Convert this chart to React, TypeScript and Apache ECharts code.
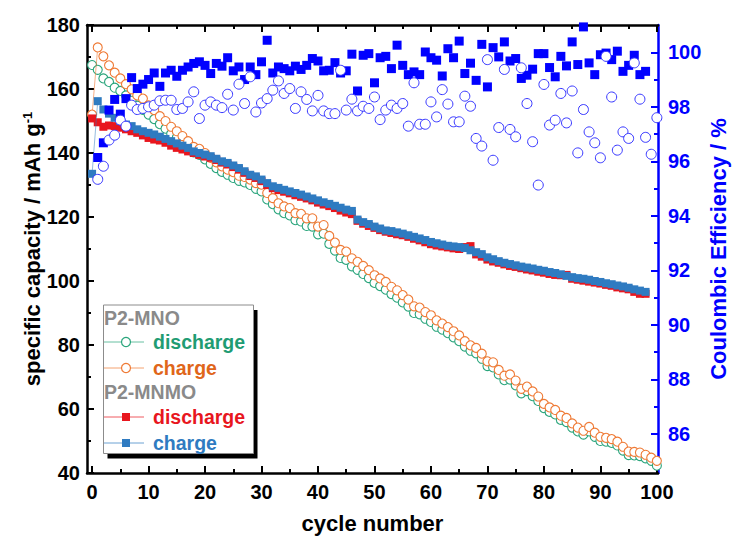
import React, { useEffect, useRef } from "react";
import * as echarts from "echarts";

const FONT = "'Liberation Sans', Arial, sans-serif";

// x-axis tick labels
const xTicks = [0, 10, 20, 30, 40, 50, 60, 70, 80, 90, 100];
const xMinor = [5, 15, 25, 35, 45, 55, 65, 75, 85, 95];
const ceTicks = [86, 88, 90, 92, 94, 96, 98, 100];
const ceMinor = [85, 87, 89, 91, 93, 95, 97, 99];

// P2-MNO specific capacity (cycle 0..100)
const mnoDischarge = [
  167.5, 166.0, 163.3, 162.2, 160.4, 159.4, 158.0, 156.3, 154.8, 153.5,
  152.0, 150.6, 149.0, 147.6, 146.0, 144.8, 143.2, 141.8, 140.2, 139.4,
  138.0, 136.6, 135.3, 134.1, 133.2, 132.2, 131.3, 130.8, 130.0, 128.8,
  128.0, 125.5, 124.0, 122.4, 121.2, 120.5, 119.0, 118.6, 117.2, 117.0,
  114.6, 114.8, 111.6, 109.5, 107.2, 106.6, 104.6, 103.5, 102.2, 100.9,
  99.4, 98.4, 97.3, 95.9, 94.8, 93.3, 92.0, 90.0, 89.6, 88.2,
  87.2, 85.7, 84.8, 83.7, 82.4, 81.2, 79.5, 78.2, 77.4, 75.7,
  73.4, 73.0, 70.8, 69.0, 69.2, 67.4, 64.9, 65.6, 64.0, 62.5,
  60.3, 59.1, 58.3, 56.6, 55.9, 54.2, 53.0, 52.0, 53.0, 51.3,
  50.0, 49.8, 49.4, 48.6, 47.0, 45.6, 45.5, 45.3, 44.6, 43.8,
  42.3,
];
const mnoCharge = [
  152.0, 173.0, 170.2, 167.4, 165.1, 163.3, 161.5, 159.9, 158.0, 157.0,
  154.9, 153.4, 151.5, 150.0, 148.2, 146.8, 145.3, 143.7, 141.9, 141.3,
  140.0, 138.5, 137.1, 135.8, 134.8, 134.0, 132.9, 132.5, 131.7, 130.6,
  130.1, 127.5, 125.9, 124.3, 123.3, 122.8, 121.2, 121.0, 119.6, 119.6,
  117.0, 117.5, 114.1, 112.0, 109.7, 109.2, 107.1, 106.0, 104.7, 103.4,
  101.8, 100.8, 99.7, 98.2, 97.1, 95.6, 94.2, 92.1, 91.7, 90.3,
  89.3, 87.7, 86.7, 85.6, 84.3, 83.0, 81.2, 79.9, 79.1, 77.3,
  74.9, 74.6, 72.2, 70.4, 70.8, 68.9, 66.3, 67.0, 65.5, 63.9,
  61.6, 60.5, 59.7, 57.9, 57.2, 55.5, 54.2, 53.2, 54.4, 52.6,
  51.3, 51.0, 50.6, 49.8, 48.2, 46.7, 46.6, 46.4, 45.7, 44.8,
  43.8,
];

// P2-MNMO specific capacity (cycle 0..98)
const mnmoDischarge = [
  150.8, 149.6, 148.2, 148.6, 148.4, 147.9, 147.4, 146.8, 146.3, 145.5,
  144.7, 144.2, 143.9, 143.2, 142.3, 141.6, 141.1, 140.5, 140.0, 139.4,
  138.9, 138.5, 137.8, 137.0, 136.4, 135.6, 134.8, 133.8, 132.8, 132.2,
  131.2, 130.0, 129.0, 128.4, 127.9, 127.4, 126.8, 126.3, 125.8, 125.2,
  124.5, 123.9, 123.4, 122.8, 122.0, 121.4, 120.9, 118.8, 117.9, 117.2,
  116.6, 115.9, 115.4, 115.0, 114.6, 114.3, 113.8, 113.2, 112.7, 112.1,
  111.5, 111.1, 110.8, 110.5, 110.2, 110.0, 110.6, 110.9, 108.3, 107.6,
  106.7, 106.1, 105.7, 105.2, 104.7, 104.4, 104.0, 103.6, 103.3, 102.9,
  102.6, 102.2, 101.9, 101.8, 101.9, 100.7, 100.4, 100.1, 99.8, 99.5,
  99.2, 98.8, 98.5, 98.0, 97.7, 97.4, 96.6, 96.0, 96.0,
];
const mnmoCharge = [
  133.5, 156.2, 153.6, 152.3, 151.0, 150.0, 148.9, 148.4, 147.4, 146.8,
  146.3, 145.8, 145.1, 144.4, 143.7, 143.0, 142.3, 141.6, 140.5, 140.0,
  139.5, 139.0, 138.2, 137.4, 136.9, 136.1, 135.3, 134.3, 133.2, 132.7,
  131.7, 130.6, 129.6, 129.1, 128.5, 128.0, 127.5, 127.0, 126.4, 125.8,
  125.2, 124.6, 124.1, 123.5, 122.9, 122.3, 121.9, 119.2, 118.4, 117.8,
  117.0, 116.4, 115.8, 115.6, 115.2, 114.8, 114.3, 113.8, 113.3, 112.8,
  112.2, 111.8, 111.4, 111.0, 110.8, 110.6, 110.3, 109.6, 109.0, 108.4,
  107.4, 106.8, 106.2, 105.7, 105.3, 104.9, 104.5, 104.2, 103.9, 103.5,
  103.2, 102.8, 102.5, 102.1, 101.6, 101.2, 100.9, 100.7, 100.4, 100.0,
  99.7, 99.3, 99.0, 98.6, 98.3, 97.9, 97.4, 97.0, 96.6,
];

// Coulombic efficiency (%), from cycle 1
const ceMnmo = [
  96.14, 96.68, 97.88, 98.27, 97.73, 98.3, 99.07, 98.67, 98.83, 99.0,
  99.24, 98.75, 99.24, 99.34, 99.12, 99.34, 99.46, 99.59, 99.65, 99.52,
  99.22, 99.59, 99.49, 99.8, 99.32, 99.46, 99.0, 99.46, 99.18, 99.65,
  100.44, 99.24, 99.46, 99.4, 99.32, 99.49, 99.37, 99.52, 99.77, 99.68,
  99.32, 99.34, 99.62, 99.24, 99.32, 99.93, 98.58, 99.89, 99.95, 98.88,
  99.8, 99.85, 99.4, 100.26, 99.52, 99.18, 99.28, 99.18, 100.01, 99.8,
  99.71, 99.13, 100.13, 99.8, 100.41, 99.22, 99.6, 98.97, 100.29, 98.73,
  100.17, 99.83, 100.38, 99.68, 99.77, 99.04, 99.16, 99.38, 99.95, 99.95,
  99.44, 99.1, 99.85, 99.5, 100.38, 99.55, 100.93, 99.61, 99.18, 99.91,
  99.97, 99.73, 100.04, 99.3, 99.52, 99.89, 99.18, 99.3,
];
const ceMno = [
  95.34, 95.82, 96.78, 96.96, 97.51, 97.29, 98.06, 97.9, 97.94, 98.0,
  98.06, 98.22, 98.24, 98.24, 97.9, 97.94, 98.18, 98.55, 97.57, 98.06,
  98.18, 98.06, 97.97, 98.46, 97.88, 98.83, 98.12, 99.1, 97.81, 98.14,
  98.3, 98.61, 98.95, 98.49, 98.67, 97.94, 98.55, 98.27, 97.85, 98.42,
  97.85, 97.75, 97.75, 99.34, 97.88, 98.28, 97.85, 98.02, 97.94, 98.36,
  97.53, 97.88, 98.06, 97.94, 98.12, 97.29, 98.88, 97.36, 97.36, 98.18,
  97.63, 98.63, 98.1, 97.45, 97.45, 98.39, 98.02, 96.84, 96.56, 99.73,
  96.04, 97.24, 99.37, 97.17, 96.9, 99.43, 98.12, 96.72, 95.13, 98.82,
  97.33, 97.51, 98.49, 97.41, 98.58, 96.31, 97.9, 97.08, 96.68, 96.13,
  99.85, 98.36, 96.41, 97.08, 96.84, 99.61, 98.28, 96.88, 96.26, 97.6,
];

const C_GREEN = "#2aa57c";
const C_GREEN_TXT = "#1f9c73";
const C_ORANGE = "#ef7a35";
const C_ORANGE_TXT = "#e0661a";
const C_RED = "#e8161e";
const C_STEEL = "#2f7bc1";
const C_BLUE = "#0000ff";
const C_GRAY = "#8a8a8a";

const pairs = (arr: number[], start: number) => arr.map((v, i) => [i + start, v]);

export default function App() {
  const ref = useRef<HTMLDivElement>(null);
  useEffect(() => {
    if (!ref.current) return;
    const chart = echarts.init(ref.current, null, { renderer: "svg" });
    const lbl = { fontFamily: FONT, fontWeight: "bold" as const, fontSize: 20 };
    const legendRows = [
      { y: 342, color: C_GREEN, txt: C_GREEN_TXT, label: "discharge", sym: "circle" },
      { y: 368, color: C_ORANGE, txt: C_ORANGE_TXT, label: "charge", sym: "circle" },
      { y: 417, color: C_RED, txt: C_RED, label: "discharge", sym: "rect" },
      { y: 443, color: C_STEEL, txt: C_STEEL, label: "charge", sym: "rect" },
    ];
    const legendEls: any[] = [
      { type: "rect", shape: { x: 107.5, y: 310, width: 150, height: 148.5 }, style: { fill: "#000" }, z: 100 },
      { type: "rect", shape: { x: 103.5, y: 305, width: 150, height: 148.5 }, style: { fill: "#fff", stroke: "#8c8c8c", lineWidth: 1 }, z: 101 },
      { type: "text", x: 104, y: 318, style: { text: "P2-MNO", fill: C_GRAY, font: `bold 19.5px ${FONT}`, verticalAlign: "middle" }, z: 102 },
      { type: "text", x: 104, y: 392, style: { text: "P2-MNMO", fill: C_GRAY, font: `bold 19.5px ${FONT}`, verticalAlign: "middle" }, z: 102 },
    ];
    legendRows.forEach((r) => {
      legendEls.push({ type: "line", shape: { x1: 104, y1: r.y, x2: 144, y2: r.y }, style: { stroke: r.color, lineWidth: 1, opacity: 0.7 }, z: 102 });
      if (r.sym === "circle") {
        legendEls.push({ type: "circle", shape: { cx: 126, cy: r.y, r: 4.5 }, style: { fill: "#fff", stroke: r.color, lineWidth: 1.2 }, z: 103 });
      } else {
        legendEls.push({ type: "rect", shape: { x: 122, y: r.y - 4, width: 8, height: 8 }, style: { fill: r.color }, z: 103 });
      }
      legendEls.push({ type: "text", x: 153, y: r.y, style: { text: r.label, fill: r.txt, font: `bold 19.5px ${FONT}`, verticalAlign: "middle" }, z: 102 });
    });

    const option: any = {
      animation: false,
      backgroundColor: "#fff",
      grid: { left: 87, right: 75, top: 25, bottom: 68, containLabel: false, outerBoundsMode: "none" },
      xAxis: [
        {
          type: "value", min: -0.9, max: 100.2, position: "bottom",
          axisLine: { show: true, onZero: false, lineStyle: { color: "#000", width: 2.5 } },
          axisTick: { show: true, inside: true, length: 7, customValues: xTicks, lineStyle: { color: "#000", width: 2 } },
          axisLabel: { show: true, customValues: xTicks, margin: 9, color: "#000", ...lbl },
          splitLine: { show: false },
          name: "cycle number", nameLocation: "middle", nameGap: 39, nameMoveOverlap: false,
          nameTextStyle: { fontFamily: FONT, fontWeight: "bold", fontSize: 22, color: "#000" },
        },
        {
          type: "value", min: -0.9, max: 100.2, position: "bottom",
          axisLine: { show: false, onZero: false },
          axisTick: { show: true, inside: true, length: 4, customValues: xMinor, lineStyle: { color: "#000", width: 2 } },
          axisLabel: { show: false }, splitLine: { show: false },
        },
        {
          type: "value", min: -0.9, max: 100.2, position: "top",
          axisLine: { show: true, onZero: false, lineStyle: { color: "#000", width: 2.5 } },
          axisTick: { show: true, inside: true, length: 7, customValues: xTicks, lineStyle: { color: "#000", width: 2 } },
          axisLabel: { show: false }, splitLine: { show: false },
        },
        {
          type: "value", min: -0.9, max: 100.2, position: "top",
          axisLine: { show: false, onZero: false },
          axisTick: { show: true, inside: true, length: 4, customValues: xMinor, lineStyle: { color: "#000", width: 2 } },
          axisLabel: { show: false }, splitLine: { show: false },
        },
      ],
      yAxis: [
        {
          type: "value", min: 40, max: 180, interval: 20, position: "left",
          axisLine: { show: true, onZero: false, lineStyle: { color: "#000", width: 2.5 } },
          axisTick: { show: true, inside: true, length: 7, lineStyle: { color: "#000", width: 2 } },
          minorTick: { show: true, splitNumber: 2, length: 4, lineStyle: { color: "#000", width: 2 } },
          axisLabel: { margin: 7, color: "#000", ...lbl },
          splitLine: { show: false }, minorSplitLine: { show: false },
          name: "{a|specific capacity / mAh g}{b|-1}", nameLocation: "middle", nameGap: 44, nameRotate: 90,
          nameMoveOverlap: false,
          nameTextStyle: {
            fontFamily: FONT, fontWeight: "bold", fontSize: 22, color: "#000",
            rich: {
              a: { fontFamily: FONT, fontWeight: "bold", fontSize: 22, color: "#000" },
              b: { fontFamily: FONT, fontWeight: "bold", fontSize: 13, color: "#000", verticalAlign: "top" },
            },
          },
        },
        {
          type: "value", min: 84.57, max: 101, position: "right",
          axisLine: { show: true, onZero: false, lineStyle: { color: C_BLUE, width: 2.5 } },
          axisTick: { show: true, inside: true, length: 7, customValues: ceTicks, lineStyle: { color: C_BLUE, width: 2 } },
          axisLabel: { customValues: ceTicks, margin: 10, color: C_BLUE, ...lbl },
          splitLine: { show: false },
          name: "Coulombic Efficiency / %", nameLocation: "middle", nameGap: 49, nameRotate: 90,
          nameMoveOverlap: false,
          nameTextStyle: { fontFamily: FONT, fontWeight: "bold", fontSize: 22, color: C_BLUE },
        },
        {
          type: "value", min: 84.57, max: 101, position: "right",
          axisLine: { show: false, onZero: false },
          axisTick: { show: true, inside: true, length: 4, customValues: ceMinor, lineStyle: { color: C_BLUE, width: 2 } },
          axisLabel: { show: false }, splitLine: { show: false },
        },
      ],
      graphic: legendEls,
      series: [
        {
          name: "MNO discharge", type: "line", xAxisIndex: 0, yAxisIndex: 0,
          data: pairs(mnoDischarge, 0), symbol: "circle", symbolSize: 9, showSymbol: true,
          itemStyle: { color: "#fff", borderColor: C_GREEN, borderWidth: 1.1 },
          lineStyle: { color: C_GREEN, width: 1, opacity: 0.6 }, z: 2,
        },
        {
          name: "MNO charge", type: "line", xAxisIndex: 0, yAxisIndex: 0,
          data: pairs(mnoCharge, 0), symbol: "circle", symbolSize: 9, showSymbol: true,
          itemStyle: { color: "#fff", borderColor: C_ORANGE, borderWidth: 1.1 },
          lineStyle: { color: C_ORANGE, width: 1, opacity: 0.6 }, z: 3,
        },
        {
          name: "MNMO discharge", type: "line", xAxisIndex: 0, yAxisIndex: 0,
          data: pairs(mnmoDischarge, 0), symbol: "rect", symbolSize: 8, showSymbol: true,
          itemStyle: { color: C_RED },
          lineStyle: { color: C_RED, width: 1, opacity: 0.5 }, z: 4,
        },
        {
          name: "MNMO charge", type: "line", xAxisIndex: 0, yAxisIndex: 0,
          data: pairs(mnmoCharge, 0), symbol: "rect", symbolSize: 8, showSymbol: true,
          itemStyle: { color: C_STEEL },
          lineStyle: { color: C_STEEL, width: 1, opacity: 0.5 }, z: 5,
        },
        {
          name: "CE MNMO", type: "scatter", xAxisIndex: 0, yAxisIndex: 1,
          data: pairs(ceMnmo, 1), symbol: "rect", symbolSize: 9,
          itemStyle: { color: C_BLUE, opacity: 1 }, z: 6,
        },
        {
          name: "CE MNO", type: "scatter", xAxisIndex: 0, yAxisIndex: 1,
          data: pairs(ceMno, 1), symbol: "circle", symbolSize: 10,
          itemStyle: { color: "#fff", borderColor: "#3535ff", borderWidth: 1, opacity: 1 }, z: 7,
        },
      ],
    };
    chart.setOption(option);
    return () => chart.dispose();
  }, []);
  return (
    <div
      ref={ref}
      style={{ position: "fixed", left: 0, top: 0, width: 733, height: 541, background: "#fff" }}
    />
  );
}
